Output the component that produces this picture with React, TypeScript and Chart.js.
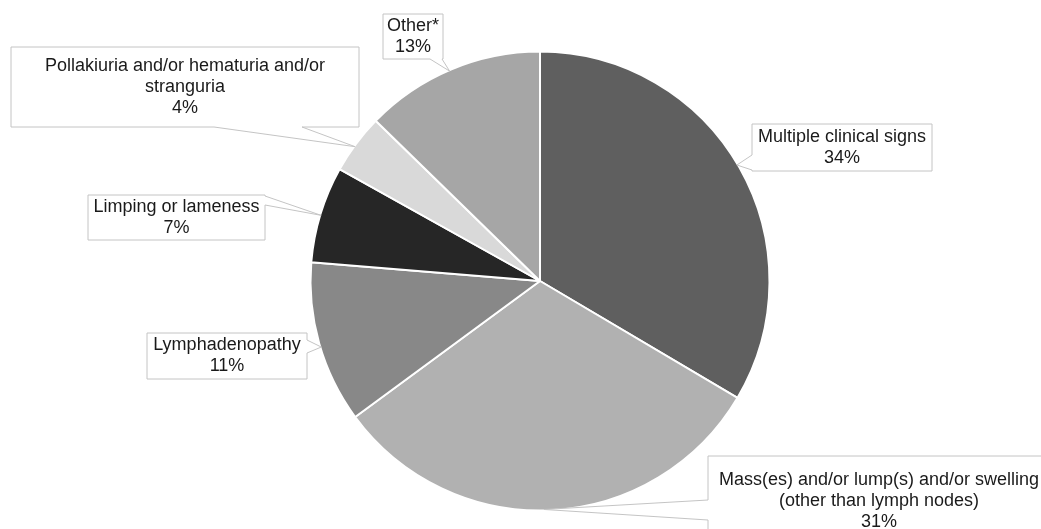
import React, { useEffect, useRef } from "react";
import { Chart, registerables } from "chart.js";

Chart.register(...registerables);

const categories = [
  "Multiple clinical signs",
  "Mass(es) and/or lump(s) and/or swelling (other than lymph nodes)",
  "Lymphadenopathy",
  "Limping or lameness",
  "Pollakiuria and/or hematuria and/or stranguria",
  "Other*",
];
const labelLines = [
  ["Multiple clinical signs"],
  ["Mass(es) and/or lump(s) and/or swelling", "(other than lymph nodes)"],
  ["Lymphadenopathy"],
  ["Limping or lameness"],
  ["Pollakiuria and/or hematuria and/or", "stranguria"],
  ["Other*"],
];
const values = [33.5, 31.4, 11.4, 6.8, 4.2, 12.7];
const colors = ["#5f5f5f", "#b1b1b1", "#888888", "#262626", "#d9d9d9", "#a6a6a6"];

// callout layout: box rect, side of wedge, wedge base range along that side, tip angle (deg)
const callouts = [
  { x: 752, y: 124, w: 180, h: 47, side: "left", b0: 155, b1: 170, angle: -30.5 },
  { x: 708, y: 456, w: 342, h: 90, side: "left", b0: 500, b1: 520, angle: 89 },
  { x: 147, y: 333, w: 160, h: 46, side: "right", b0: 340, b1: 353, angle: 163.2 },
  { x: 88, y: 195, w: 177, h: 45, side: "right", b0: 196, b1: 205, angle: 196.7 },
  { x: 11, y: 47, w: 348, h: 80, side: "bottom", b0: 214, b1: 302, angle: 216 },
  { x: 383, y: 14, w: 60, h: 45, side: "bottom", b0: 430, b1: 442, angle: 246.7 },
];

const calloutPlugin = {
  id: "callouts",
  afterDraw(chart: any) {
    const ctx = chart.ctx;
    const meta = chart.getDatasetMeta(0);
    const data = chart.data.datasets[0].data as number[];
    const total = data.reduce((a, b) => a + b, 0);
    ctx.save();
    callouts.forEach((c, i) => {
      const arc = meta.data[i] as any;
      if (!arc) return;
      const a = (c.angle * Math.PI) / 180;
      const r = arc.outerRadius - 1;
      const tx = arc.x + r * Math.cos(a);
      const ty = arc.y + r * Math.sin(a);
      const { x, y, w, h, side, b0, b1 } = c;
      ctx.beginPath();
      ctx.moveTo(x, y);
      if (side === "top") {
        ctx.lineTo(b0, y);
        ctx.lineTo(tx, ty);
        ctx.lineTo(b1, y);
      }
      ctx.lineTo(x + w, y);
      if (side === "right") {
        ctx.lineTo(x + w, b0);
        ctx.lineTo(tx, ty);
        ctx.lineTo(x + w, b1);
      }
      ctx.lineTo(x + w, y + h);
      if (side === "bottom") {
        ctx.lineTo(b1, y + h);
        ctx.lineTo(tx, ty);
        ctx.lineTo(b0, y + h);
      }
      ctx.lineTo(x, y + h);
      if (side === "left") {
        ctx.lineTo(x, b1);
        ctx.lineTo(tx, ty);
        ctx.lineTo(x, b0);
      }
      ctx.closePath();
      ctx.fillStyle = "#ffffff";
      ctx.fill();
      ctx.strokeStyle = "#c4c4c4";
      ctx.lineWidth = 1;
      ctx.stroke();

      const lines = [...labelLines[i], Math.round((data[i] / total) * 100) + "%"];
      const lh = 21;
      const cx = x + w / 2;
      const cy = y + h / 2;
      ctx.fillStyle = "#1a1a1a";
      ctx.font = '18px "Liberation Sans", Arial, sans-serif';
      ctx.textAlign = "center";
      ctx.textBaseline = "middle";
      lines.forEach((t, k) => {
        ctx.fillText(t, cx, cy + (k - (lines.length - 1) / 2) * lh);
      });
    });
    ctx.restore();
  },
};

export default function App() {
  const ref = useRef<HTMLCanvasElement>(null);
  useEffect(() => {
    if (!ref.current) return;
    const chart = new Chart(ref.current, {
      type: "pie",
      data: {
        labels: categories,
        datasets: [
          {
            data: values,
            backgroundColor: colors,
            borderColor: "#ffffff",
            borderWidth: 2,
          },
        ],
      },
      options: {
        animation: false,
        responsive: true,
        maintainAspectRatio: false,
        layout: { padding: { left: 309.5, right: 270.5, top: 50.5, bottom: 17.5 } },
        plugins: {
          legend: { display: false },
          tooltip: { enabled: false },
        },
      },
      plugins: [calloutPlugin],
    });
    return () => chart.destroy();
  }, []);
  return (
    <div style={{ position: "fixed", left: 0, top: 0, width: 1041, height: 529, background: "#fff" }}>
      <canvas ref={ref} />
    </div>
  );
}
